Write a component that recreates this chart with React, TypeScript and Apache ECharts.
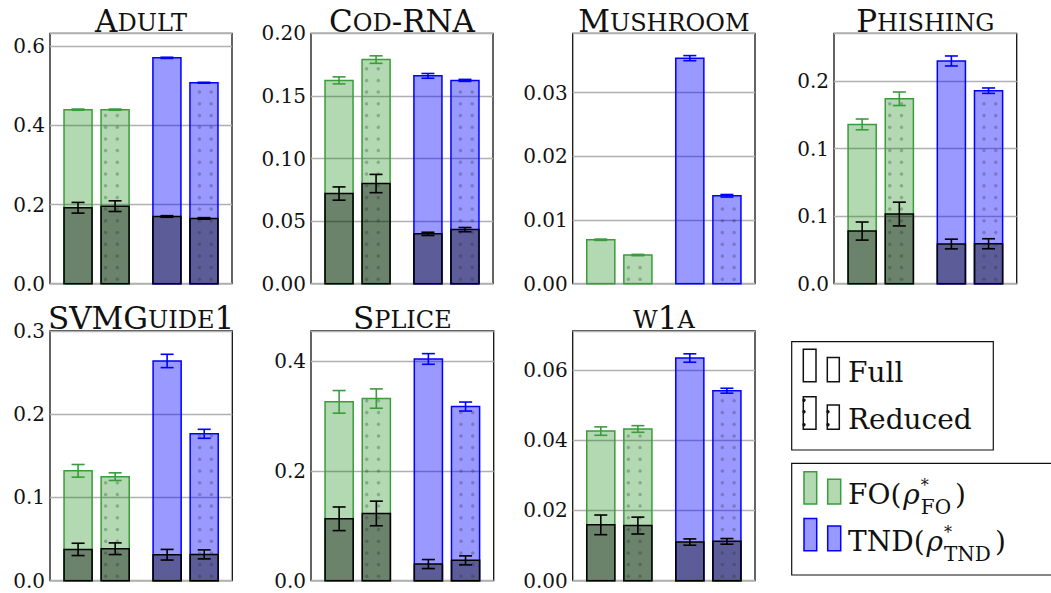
import { useEffect, useRef } from "react";
import * as echarts from "echarts";

// ---------------- data ----------------
const DATASETS = ["Adult", "Cod-RNA", "Mushroom", "Phishing", "SVMGuide1", "Splice", "w1a"];
// small-caps rendering of the titles: [text, isFullSizeCapital]
const TITLE_PIECES: [string, boolean][][] = [
  [["A", true], ["DULT", false]],
  [["C", true], ["OD", false], ["-RNA", true]],
  [["M", true], ["USHROOM", false]],
  [["P", true], ["HISHING", false]],
  [["SVMG", true], ["UIDE", false], ["1", true]],
  [["S", true], ["PLICE", false]],
  [["W", false], ["1", true], ["A", false]],
];

// bars in every panel: FO full, FO reduced, TND full, TND reduced
const BAR_NAMES = ["FO full", "FO reduced", "TND full", "TND reduced"];
const BAR_SLOT = [0, 1, 2.4, 3.4];
const BAR_FAMILY = [0, 0, 1, 1]; // 0 = FO (green), 1 = TND (blue)
const BAR_REDUCED = [0, 1, 0, 1];

// height of the light bar (total) and its error
const TOP_VALUES = [
  [0.44, 0.44, 0.571, 0.508],
  [0.1624, 0.179, 0.166, 0.1624],
  [0.0069, 0.0045, 0.0354, 0.0138],
  [0.118, 0.137, 0.165, 0.143],
  [0.132, 0.125, 0.264, 0.1765],
  [0.3255, 0.3315, 0.4036, 0.317],
  [0.0426, 0.0432, 0.0634, 0.0541],
];
const TOP_ERRORS = [
  [0.0015, 0.0015, 0.0015, 0.0012],
  [0.0028, 0.003, 0.0019, 0.0008],
  [0.0001, 0.0001, 0.0004, 0.0002],
  [0.004, 0.005, 0.0037, 0.002],
  [0.0076, 0.0046, 0.008, 0.0054],
  [0.0206, 0.0176, 0.0097, 0.0082],
  [0.0012, 0.00095, 0.0012, 0.0007],
];
// height of the dark bar (bottom part) and its error
const BOTTOM_VALUES = [
  [0.192, 0.196, 0.17, 0.165],
  [0.072, 0.08, 0.0398, 0.0432],
  [0, 0, 0, 0],
  [0.039, 0.0516, 0.0294, 0.0296],
  [0.0376, 0.0384, 0.0312, 0.0316],
  [0.1127, 0.1224, 0.0303, 0.037],
  [0.0159, 0.0157, 0.011, 0.0112],
];
const BOTTOM_ERRORS = [
  [0.0135, 0.0135, 0.002, 0.002],
  [0.0053, 0.0073, 0.0013, 0.0017],
  [0, 0, 0, 0],
  [0.0067, 0.0088, 0.0036, 0.0037],
  [0.0074, 0.007, 0.0064, 0.0054],
  [0.0215, 0.0224, 0.0082, 0.0082],
  [0.0028, 0.0024, 0.0009, 0.0008],
];

const Y_MAX = [0.633, 0.2, 0.0393, 0.1855, 0.3, 0.4545, 0.0711];
const Y_STEP = [0.2, 0.05, 0.01, 0.05, 0.1, 0.2, 0.02];
const Y_TICK_LABELS = [
  ["0.0", "0.2", "0.4", "0.6"],
  ["0.00", "0.05", "0.10", "0.15", "0.20"],
  ["0.00", "0.01", "0.02", "0.03"],
  ["0.0", "0.1", "0.1", "0.2"],
  ["0.0", "0.1", "0.2", "0.3"],
  ["0.0", "0.2", "0.4"],
  ["0.00", "0.02", "0.04", "0.06"],
];

const LEGEND_STYLE_LABELS = ["Full", "Reduced"];
const LEGEND_METHOD_LABELS = ["FO", "TND"];

// ---------------- layout / style ----------------
const PANELS = [
  { left: 50, top: 33.3, width: 182, height: 250.4 },
  { left: 311, top: 33.3, width: 182, height: 250.4 },
  { left: 572.7, top: 33.3, width: 182.3, height: 250.4 },
  { left: 834, top: 33.3, width: 182.7, height: 250.4 },
  { left: 50, top: 331, width: 182.3, height: 249.7 },
  { left: 311, top: 331, width: 182.7, height: 249.7 },
  { left: 572.7, top: 331, width: 182.3, height: 249.7 },
];
const TITLE_BASELINE = [31.7, 31.7, 31.7, 31.7, 328.3, 328.3, 328.3];
const X_MIN = -0.757;
const X_MAX = 4.157;
const BAR_W = 0.757;
const FONT = "DejaVu Serif";
const FILL_LIGHT = ["rgba(0,128,0,0.3)", "rgba(0,0,255,0.4)"];
const EDGE = ["#3a9c3a", "#0000ff"];
const DARK_FILL = "rgba(0,0,0,0.4)";

let measureCtx: CanvasRenderingContext2D | null = null;
function measure(text: string, size: number, italic = false): number {
  if (!measureCtx) {
    const c = document.createElement("canvas");
    measureCtx = c.getContext("2d");
  }
  if (!measureCtx) return text.length * size * 0.62;
  measureCtx.font = `${italic ? "italic " : ""}${size}px "DejaVu Serif"`;
  return measureCtx.measureText(text).width;
}

function txt(x: number, baseline: number, text: string, size: number, italic = false) {
  const style: any = {
    text,
    fill: "#111",
    fontFamily: FONT,
    fontSize: size,
    align: "left",
    verticalAlign: "middle",
  };
  if (italic) style.fontStyle = "italic";
  return { type: "text", x, y: baseline - 0.346 * size, silent: true, style };
}

function buildGraphic() {
  const g: any[] = [];
  // titles
  PANELS.forEach((p, i) => {
    const pieces = TITLE_PIECES[i];
    const sizes = pieces.map(([, big]) => (big ? 31 : 24));
    const widths = pieces.map(([t], k) => measure(t, sizes[k]));
    const total = widths.reduce((a, b) => a + b, 0);
    let x = p.left + p.width / 2 - total / 2;
    pieces.forEach(([t], k) => {
      g.push(txt(x, TITLE_BASELINE[i], t, sizes[k]));
      x += widths[k];
    });
  });

  // legend box 1 (Full / Reduced)
  g.push({ type: "rect", shape: { x: 791.7, y: 341.7, width: 201.6, height: 108.3 }, style: { fill: "#fff", stroke: "#111", lineWidth: 1.2 } });
  const rowBase1 = [381.7, 429.3];
  rowBase1.forEach((b, r) => {
    g.push({ type: "rect", shape: { x: 803.3, y: b - 32.5, width: 12.7, height: 32.5 }, style: { fill: "#fff", stroke: "#111", lineWidth: 1.5 } });
    g.push({ type: "rect", shape: { x: 827.3, y: b - 24.3, width: 12, height: 24.3 }, style: { fill: "#fff", stroke: "#111", lineWidth: 1.5 } });
    if (r === 1) {
      [b - 29, b - 17.5, b - 4.5].forEach((cy) => g.push({ type: "circle", shape: { cx: 804, cy, r: 1.7 }, style: { fill: "#111" } }));
      [b - 17.5, b - 4.5].forEach((cy) => g.push({ type: "circle", shape: { cx: 828, cy, r: 1.7 }, style: { fill: "#111" } }));
    }
    g.push(txt(848, b, LEGEND_STYLE_LABELS[r], 28));
  });

  // legend box 2 (FO / TND)
  g.push({ type: "rect", shape: { x: 791.7, y: 463.3, width: 270, height: 111.7 }, style: { fill: "#fff", stroke: "#111", lineWidth: 1.2 } });
  const rowBase2 = [504, 550.7];
  rowBase2.forEach((b, r) => {
    g.push({ type: "rect", shape: { x: 804, y: b - 32.3, width: 12.7, height: 32.3 }, style: { fill: FILL_LIGHT[r], stroke: EDGE[r], lineWidth: 1.5 } });
    g.push({ type: "rect", shape: { x: 827.7, y: b - 24.7, width: 13, height: 24.7 }, style: { fill: FILL_LIGHT[r], stroke: EDGE[r], lineWidth: 1.5 } });
    const name = LEGEND_METHOD_LABELS[r];
    let x = 848;
    const main = name + "(";
    g.push(txt(x, b, main, 28));
    x += measure(main, 28) + 2;
    g.push(txt(x, b, "ρ", 28, true));
    x += measure("ρ", 28, true) + 1;
    g.push(txt(x, b - 12.5, "*", 16));
    g.push(txt(x, b + 10, name, 20));
    x += Math.max(measure("*", 16), measure(name, 20)) + 4;
    g.push(txt(x, b, ")", 28));
  });
  return g;
}

function renderBar(params: any, api: any) {
  const slot = api.value(0);
  const top = api.value(1);
  const topErr = api.value(2);
  const bot = api.value(3);
  const botErr = api.value(4);
  const fam = api.value(5);
  const red = api.value(6);
  const [xc, y0] = api.coord([slot, 0]);
  const w = api.size([BAR_W, 0])[0];
  const xl = xc - w / 2;
  const yTop = api.coord([slot, top])[1];
  const children: any[] = [];
  children.push({
    type: "rect",
    shape: { x: xl, y: yTop, width: w, height: y0 - yTop },
    style: { fill: FILL_LIGHT[fam], stroke: EDGE[fam], lineWidth: 1.5 },
  });
  if (bot > 0) {
    const yBot = api.coord([slot, bot])[1];
    children.push({
      type: "rect",
      shape: { x: xl, y: yBot, width: w, height: y0 - yBot },
      style: { fill: DARK_FILL, stroke: "#000", lineWidth: 1.5 },
    });
  }
  if (red) {
    const offs = fam === 0 ? [4.5, 16.25] : [9.5, 21.25];
    offs.forEach((ox) => {
      const cx = xl + ox;
      if (cx > xl + w - 1.5) return;
      for (let cy = y0 - 4.4; cy > yTop + 2; cy -= 11.7) {
        children.push({ type: "circle", shape: { cx, cy, r: 1.75 }, style: { fill: "rgba(40,40,40,0.28)" } });
      }
    });
  }
  const cap = 6.5;
  const errBar = (v: number, e: number, color: string) => {
    const ya = api.coord([slot, v - e])[1];
    const yb = api.coord([slot, v + e])[1];
    const st = { stroke: color, lineWidth: 1.6 };
    children.push({ type: "line", shape: { x1: xc, y1: ya, x2: xc, y2: yb }, style: st });
    children.push({ type: "line", shape: { x1: xc - cap, y1: ya, x2: xc + cap, y2: ya }, style: st });
    children.push({ type: "line", shape: { x1: xc - cap, y1: yb, x2: xc + cap, y2: yb }, style: st });
  };
  errBar(top, topErr, EDGE[fam]);
  if (bot > 0) errBar(bot, botErr, "#000");
  return { type: "group", children };
}

function buildOption() {
  return {
    animation: false,
    backgroundColor: "#fff",
    textStyle: { fontFamily: FONT },
    grid: PANELS.map((p) => ({
      left: p.left,
      top: p.top,
      width: p.width,
      height: p.height,
      show: true,
      borderColor: "#111",
      borderWidth: 1.3,
      backgroundColor: "transparent",
    })),
    xAxis: PANELS.map((_, i) => ({
      type: "value",
      gridIndex: i,
      min: X_MIN,
      max: X_MAX,
      show: false,
      splitLine: { show: false },
    })),
    yAxis: PANELS.map((_, i) => ({
      type: "value",
      gridIndex: i,
      min: 0,
      max: Y_MAX[i],
      interval: Y_STEP[i],
      axisLine: { show: false },
      axisTick: { show: false },
      splitLine: { show: true, lineStyle: { color: "#b0b0b0", width: 1.3 } },
      axisLabel: {
        margin: 5,
        fontFamily: FONT,
        fontSize: 20,
        color: "#111",
        formatter: (v: number) => {
          const k = Math.round(v / Y_STEP[i]);
          if (Math.abs(v - k * Y_STEP[i]) > 1e-9) return "";
          return Y_TICK_LABELS[i][k] ?? "";
        },
      },
    })),
    series: PANELS.map((_, i) => ({
      type: "custom",
      name: DATASETS[i],
      xAxisIndex: i,
      yAxisIndex: i,
      renderItem: renderBar,
      data: BAR_NAMES.map((_, j) => [
        BAR_SLOT[j],
        TOP_VALUES[i][j],
        TOP_ERRORS[i][j],
        BOTTOM_VALUES[i][j],
        BOTTOM_ERRORS[i][j],
        BAR_FAMILY[j],
        BAR_REDUCED[j],
      ]),
    })),
    graphic: buildGraphic(),
  };
}

export default function App() {
  const ref = useRef<HTMLDivElement>(null);
  useEffect(() => {
    if (!ref.current) return;
    const chart = echarts.init(ref.current, undefined, { renderer: "svg" });
    chart.setOption(buildOption() as any);
    return () => chart.dispose();
  }, []);
  return (
    <div
      ref={ref}
      style={{ position: "fixed", left: 0, top: 0, width: 1051, height: 593, background: "#fff" }}
    />
  );
}
